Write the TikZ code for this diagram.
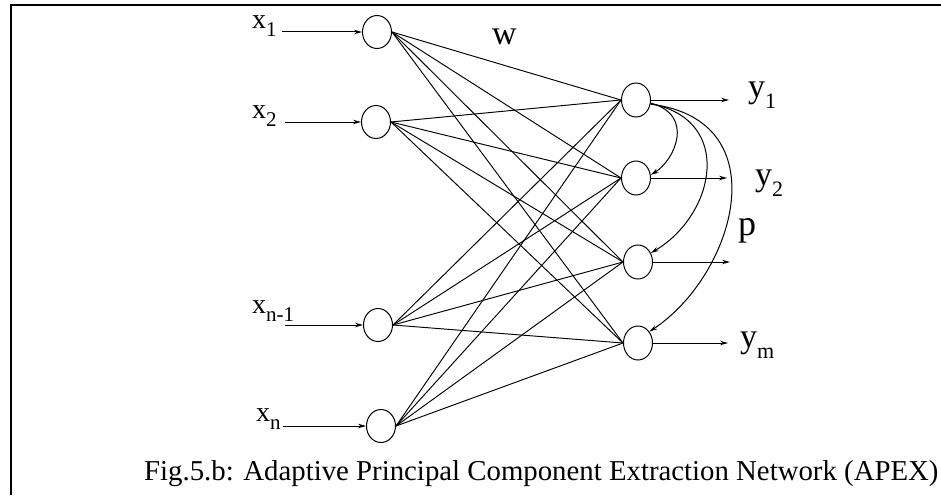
\documentclass[tikz,border=0pt]{standalone}
\usepackage{fontspec}
\setmainfont{Liberation Serif}
\usetikzlibrary{shapes.geometric,arrows.meta}
\newcommand\xlab[1]{x\raisebox{-8pt}{\fontsize{21}{21}\selectfont #1}}
\newcommand\ylab[1]{y\raisebox{-11pt}{\fontsize{22}{22}\selectfont #1}}
\begin{document}
\begin{tikzpicture}[x=1pt,y=-1pt,
  neuron/.style={draw, ellipse, inner sep=0pt, minimum width=29pt, minimum height=33pt, line width=1pt},
  conn/.style={line width=0.95pt},
  inarrow/.style={line width=1pt, -{Stealth[length=8pt,width=4.5pt]}},
  fb/.style={line width=1pt, -{Stealth[length=8pt,width=4.5pt]}},
  xl/.style={anchor=base west, inner sep=0pt, font=\fontsize{28}{28}\selectfont},
  yl/.style={anchor=base west, inner sep=0pt, font=\fontsize{34}{34}\selectfont},
  frame/.style={line width=1.5pt}
]
\useasboundingbox (0,0) rectangle (941,495);
% frame
\coordinate (fa) at (11,495);
\coordinate (fb) at (11,5);
\coordinate (fc) at (941,5);
\draw[frame] (fa) -- (fb) -- (fc);

% input neurons
\node[neuron] (i1) at (377,32) {};
\node[neuron] (i2) at (376,122) {};
\node[neuron] (i3) at (378,325) {};
\node[neuron] (i4) at (381,426) {};
% output neurons
\node[neuron, minimum height=34pt] (o1) at (636,100) {};
\node[neuron, minimum height=34pt] (o2) at (636,178) {};
\node[neuron, minimum height=34pt] (o3) at (638,262) {};
\node[neuron, minimum height=34pt] (o4) at (638,343) {};

% input labels
\node[xl] (lx1) at (252,29) {\xlab{1}};
\node[xl] (lx2) at (252,118) {\xlab{2}};
\node[xl] (lx3) at (252,313) {\xlab{n-1}};
\node[xl] (lx4) at (256,421) {\xlab{n}};

% input arrows
\coordinate (s1) at (282,32);
\coordinate (s2) at (285,122);
\coordinate (s3) at (285,325);
\coordinate (s4) at (283,426);
\foreach \k in {1,...,4} \draw[inarrow] (s\k) -- (i\k);

% weights
\foreach \a in {1,...,4}
  \foreach \b in {1,...,4}
    \draw[conn] (i\a.east) -- (o\b.west);

% outputs
\coordinate (e1) at (729,100);
\coordinate (e2) at (727,178);
\coordinate (e3) at (730,262);
\coordinate (e4) at (728,343);
\foreach \k in {1,...,4} \draw[inarrow] (o\k) -- (e\k);

% lateral feedback
\draw[fb] (o1.-12) .. controls (695,115) and (675,160) .. (o2.12);
\draw[fb] (o1.-14) .. controls (735,120) and (715,215) .. (o3.35);
\draw[fb] (o1.-16) .. controls (780,120) and (735,275) .. (o4.45);

% labels
\node[yl] (w) at (492,45) {w};
\node[yl, font=\fontsize{36}{36}\selectfont] (p) at (738,235) {p};
\node[yl] (ly1) at (748,97) {\ylab{1}};
\node[yl] (ly2) at (755,185) {\ylab{2}};
\node[yl] (lym) at (740,347) {\ylab{m}};

% caption
\node[anchor=base west, inner sep=0pt, font=\fontsize{28.8}{28.8}\selectfont] (cap) at (144,480)
  {Fig.5.b: Adaptive Principal Component Extraction Network (APEX)};
\end{tikzpicture}
\end{document}
